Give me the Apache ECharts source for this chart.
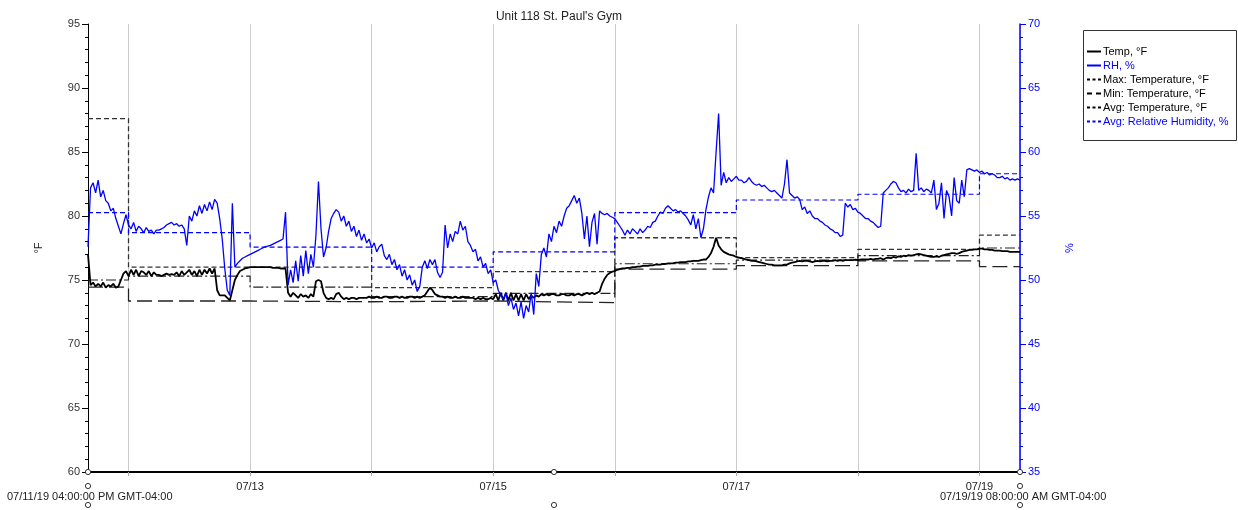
<!DOCTYPE html>
<html><head><meta charset="utf-8">
<script src="https://cdn.jsdelivr.net/npm/echarts@6/dist/echarts.min.js"></script>
<style>html,body{margin:0;padding:0;background:#fff}#c{width:1238px;height:510px}</style>
</head><body><div id="c"></div>
<script>
const chartTitle = "Unit 118 St. Paul's Gym";
const seriesNames = ['Temp, °F', 'RH, %', 'Max: Temperature, °F', 'Min: Temperature, °F', 'Avg: Temperature, °F', 'Avg: Relative Humidity, %'];
const startTime = '2019-07-11T16:00:00Z';
const endTime = '2019-07-19T08:00:00Z';
const sampleMinutes = 30;
const startLabel = '07/11/19 04:00:00 PM GMT-04:00';
const endLabel = '07/19/19 08:00:00 AM GMT-04:00';
const xTickLabels = ['07/13', '07/15', '07/17', '07/19'];

// Temperature, °F, every 30 minutes from startTime
const tempValues = [
77.0,74.6, 74.8,74.5, 74.7,74.5, 74.8,74.4, 74.6,74.5, 74.7,74.4, 74.5,75.0, 75.5,75.7,
75.3,75.8, 75.4,75.8, 75.3,75.7, 75.6,75.4, 75.7,75.3, 75.6,75.4, 75.4,75.3, 75.4,75.5,
75.4,75.45, 75.4,75.6, 75.3,75.7, 75.4,75.6, 75.8,75.4, 75.7,75.3, 75.8,75.4, 75.8,75.5,
75.9,75.5, 75.9,74.2, 73.8,73.8, 73.8,73.6, 73.4,74.2, 75.0,75.4, 75.7,75.8, 75.9,75.95,
76.0,76.0, 76.0,76.0, 76.0,76.0, 76.0,76.0, 76.0,75.95, 75.95,75.95, 75.9,75.9, 75.9,74.0,
73.7,74.0, 73.8,73.6, 73.9,73.7, 73.8,73.6, 73.9,73.7, 74.9,75.0, 74.9,74.0, 73.6,73.5,
73.6,73.5, 73.9,74.0, 73.7,73.5, 73.6,73.5, 73.6,73.6, 73.5,73.6, 73.6,73.6, 73.6,73.7,
73.6,73.6, 73.7,73.6, 73.6,73.7, 73.7,73.6, 73.6,73.7, 73.7,73.6, 73.7,73.6, 73.6,73.7,
73.7,73.6, 73.7,73.6, 73.7,73.8, 74.1,74.4, 74.2,73.9, 73.8,73.7, 73.7,73.6, 73.7,73.6,
73.6,73.7, 73.6,73.6, 73.7,73.6, 73.6,73.6, 73.6,73.5, 73.6,73.5, 73.6,73.5, 73.5,73.6,
73.5,73.9, 73.4,74.0, 73.4,74.0, 73.4,74.0, 73.4,73.9, 73.4,73.9, 73.4,73.9, 73.5,73.8,
73.6,73.8, 73.7,73.9, 73.8,73.9, 73.8,73.9, 73.9,73.8, 73.8,73.9, 73.9,73.8, 73.8,73.9,
73.8,73.9, 73.9,73.8, 73.9,74.0, 73.9,74.0, 73.9,74.0, 74.1,74.7, 75.1,75.4, 75.55,75.65,
75.7,75.8, 75.85,75.9, 75.9,75.95, 75.95,76.0, 76.0,76.05, 76.05,76.1, 76.1,76.1, 76.15,76.15,
76.2,76.2, 76.2,76.25, 76.25,76.3, 76.3,76.3, 76.35,76.35, 76.4,76.4, 76.4,76.45, 76.45,76.5,
76.5,76.5, 76.55,76.6, 76.6,76.8, 77.1,77.6, 78.3,77.7, 77.4,77.2, 77.1,77.0, 76.95,76.9,
76.8,76.75, 76.7,76.65, 76.6,76.55, 76.5,76.5, 76.45,76.4, 76.35,76.3, 76.25,76.2, 76.2,76.15,
76.15,76.15, 76.15,76.2, 76.2,76.3, 76.35,76.4, 76.45,76.5, 76.45,76.5, 76.5,76.45, 76.4,76.45,
76.5,76.45, 76.5,76.5, 76.45,76.5, 76.5,76.55, 76.5,76.55, 76.5,76.55, 76.55,76.55, 76.55,76.6,
76.55,76.6, 76.6,76.6, 76.6,76.65, 76.6,76.65, 76.65,76.7, 76.6,76.7, 76.75,76.7, 76.8,76.75,
76.85,76.8, 76.9,76.85, 76.95,76.9, 76.95,77.0, 77.05,77.0, 76.95,76.9, 76.85,76.8, 76.8,76.85,
76.8,76.9, 76.95,77.0, 77.05,77.1, 77.1,77.05, 77.1,77.2, 77.25,77.3, 77.35,77.35, 77.4,77.4,
77.45,77.45, 77.4,77.4, 77.35,77.35, 77.3,77.3, 77.3,77.25, 77.25,77.25, 77.2,77.2, 77.2,77.2,
77.2
];

// Relative humidity, %, every 30 minutes from startTime
const rhValues = [
52.6,57.2, 57.6,56.8, 57.8,56.5, 57.0,56.2, 56.0,55.4, 55.6,54.8, 54.2,53.6, 54.4,55.1,
54.3,54.0, 54.5,53.8, 54.2,54.0, 53.7,54.1, 53.8,53.9, 53.6,53.9, 53.9,54.0, 54.1,54.3,
54.4,54.5, 54.3,54.4, 54.2,54.3, 54.0,52.7, 55.0,54.6, 55.4,55.0, 55.8,55.2, 55.9,55.4,
56.1,55.5, 56.3,56.0, 54.8,53.2, 50.9,49.2, 48.8,56.0, 51.0,51.3, 51.5,51.7, 51.8,51.9,
52.0,52.1, 52.2,52.3, 52.4,52.5, 52.6,52.65, 52.7,52.8, 52.9,53.0, 53.1,53.2, 55.3,49.6,
50.8,49.8, 51.5,49.9, 51.9,50.3, 52.3,50.5, 52.0,51.0, 53.5,57.7, 54.0,51.8, 52.5,53.8,
54.8,55.2, 55.5,55.3, 54.6,55.0, 54.2,54.6, 53.8,54.2, 53.4,53.9, 53.1,53.6, 52.9,53.2,
52.5,52.9, 52.2,52.6, 52.8,51.9, 51.6,52.0, 51.2,51.6, 50.8,51.2, 50.3,50.8, 50.0,50.4,
49.6,50.0, 49.1,49.5, 51.0,51.5, 50.9,51.6, 51.2,51.6, 50.6,50.2, 50.6,54.3, 52.5,53.6,
53.0,53.8, 53.6,54.6, 53.9,54.2, 53.0,52.7, 52.2,52.4, 51.5,51.8, 51.0,51.3, 50.5,50.8,
49.8,50.0, 49.2,48.8, 48.5,49.0, 48.0,48.6, 47.7,48.2, 47.2,48.3, 47.0,48.0, 47.5,49.0,
47.3,50.5, 49.5,52.0, 52.5,51.8, 53.6,53.0, 54.2,53.7, 54.6,54.2, 55.0,55.6, 55.8,56.2,
56.6,56.0, 56.4,55.2, 53.2,55.0, 52.6,54.5, 55.2,52.8, 55.4,55.2, 55.1,55.2, 55.0,54.9,
54.8,54.5, 54.2,53.9, 53.5,53.9, 53.6,54.0, 53.8,53.6, 54.0,53.7, 53.9,54.2, 54.1,54.5,
54.6,55.0, 55.3,55.2, 55.6,55.8, 55.6,55.4, 55.5,55.3, 55.4,55.2, 55.0,54.7, 54.3,55.1,
54.0,54.8, 53.3,54.0, 55.5,56.5, 57.2,56.8, 60.0,63.0, 57.4,58.4, 57.6,58.0, 57.7,57.9,
58.1,57.8, 57.8,57.6, 57.7,58.0, 57.7,57.5, 57.4,57.5, 57.3,57.4, 57.2,57.0, 56.9,57.0,
56.8,56.6, 56.4,57.5, 59.4,56.8, 56.6,56.4, 56.5,56.3, 55.5,55.7, 55.2,55.4, 55.0,54.8,
54.8,54.6, 54.5,54.3, 54.2,54.0, 53.9,53.7, 53.7,53.4, 53.5,56.0, 55.7,55.9, 55.5,55.6,
55.3,55.2, 55.0,54.8, 54.8,54.6, 54.5,54.3, 54.1,54.2, 56.8,57.0, 57.2,57.5, 57.7,57.6,
57.2,56.9, 57.0,56.8, 57.1,56.9, 57.0,59.9, 57.0,57.2, 56.9,57.1, 57.0,56.8, 57.8,55.5,
56.0,57.6, 54.8,57.0, 56.5,55.0, 58.0,56.2, 56.0,57.8, 56.5,58.6, 58.7,58.6, 58.5,58.6,
58.4,58.5, 58.3,58.4, 58.2,58.3, 58.2,58.0, 58.0,58.1, 57.9,58.0, 57.8,57.9, 57.8,57.9,
57.8
];

// Daily summary steps (each starts at the given time)
const dayStarts = ['2019-07-11T16:00:00Z', '2019-07-12T00:00:00Z', '2019-07-13T00:00:00Z', '2019-07-14T00:00:00Z', '2019-07-15T00:00:00Z', '2019-07-16T00:00:00Z', '2019-07-17T00:00:00Z', '2019-07-18T00:00:00Z', '2019-07-19T00:00:00Z'];
const dailyMax = [87.6, 76.0, 76.0, 74.4, 75.65, 78.3, 76.75, 77.4, 78.5];
const dailyMin = [74.45, 73.36, 73.3, 73.36, 73.23, 75.85, 76.12, 76.5, 76.05];
const dailyAvg = [75.0, 75.3, 74.45, 73.7, 73.95, 76.27, 76.56, 76.9, 77.5];
const dailyAvgRh = [55.26, 53.7, 52.57, 51.0, 52.2, 55.26, 56.25, 56.7, 58.3];

const FONT = '"Liberation Sans", Arial, sans-serif';
const t0 = Date.parse(startTime);
const tEnd = Date.parse(endTime);
const toSeries = vals => vals.map((v, i) => [t0 + i * sampleMinutes * 60000, v]);
const toSteps = vals => dayStarts.map((t, i) => [Date.parse(t), vals[i]]).concat([[tEnd, vals[vals.length - 1]]]);

const chart = echarts.init(document.getElementById('c'), null, {renderer: 'canvas'});

const G = {left: 88, top: 24, right: 1020, bottom: 472};
const circ = (x, y) => ({type: 'circle', shape: {cx: x, cy: y, r: 2.6}, style: {fill: '#fff', stroke: '#333', lineWidth: 1}, z: 100});
const midX = (G.left + G.right) / 2;

// legend icons (solid / dotted / dashed strokes)
const ICON_SOLID = 'path://M0,0H14V2H0Z';
const ICON_DOTS = 'path://M0,0H3V2H0Z M5.5,0H8.5V2H5.5Z M11,0H14V2H11Z';
const ICON_DASH = 'path://M0,0H5V2H0Z M9,0H14V2H9Z';
const legendIcons = [ICON_SOLID, ICON_SOLID, ICON_DOTS, ICON_DASH, ICON_DOTS, ICON_DOTS];

chart.setOption({
  useUTC: true,
  animation: false,
  backgroundColor: '#fff',
  title: {text: chartTitle, left: midX, top: 6, textAlign: 'center',
    textStyle: {fontFamily: FONT, fontSize: 12, fontWeight: 'normal', color: '#222'}},
  grid: {left: G.left, top: G.top, right: 1238 - G.right, bottom: 510 - G.bottom, containLabel: false},
  legend: {
    orient: 'vertical', left: 1087, top: 46, itemWidth: 14, itemHeight: 2, itemGap: 3,
    selectedMode: false, padding: 0, symbolKeepAspect: false,
    textStyle: {fontFamily: FONT, fontSize: 11, lineHeight: 11, padding: [0, 0, 0, -3]},
    data: seriesNames.map((n, i) => ({name: n, icon: legendIcons[i],
      textStyle: {color: (i === 1 || i === 5) ? '#0000ff' : '#000'}}))
  },
  xAxis: {
    type: 'time', min: t0, max: tEnd,
    minInterval: 86400000, maxInterval: 86400000,
    axisLine: {lineStyle: {color: '#000', width: 2}},
    axisTick: {show: true, length: 4, lineStyle: {color: '#aaa'}},
    splitLine: {show: true, lineStyle: {color: '#cccccc', width: 1}},
    axisLabel: {
      fontFamily: FONT, fontSize: 11, color: '#222', margin: 9,
      showMinLabel: false, showMaxLabel: false, hideOverlap: false,
      formatter: v => {
        const d = new Date(v);
        const s = String(d.getUTCMonth() + 1).padStart(2, '0') + '/' + String(d.getUTCDate()).padStart(2, '0');
        return (d.getUTCHours() === 0 && xTickLabels.includes(s)) ? s : '';
      }
    }
  },
  yAxis: [
    {type: 'value', min: 60, max: 95, interval: 5, position: 'left',
      name: '°F', nameLocation: 'middle', nameGap: 44, nameRotate: 90,
      nameTextStyle: {fontFamily: FONT, fontSize: 11, color: '#222'},
      axisLine: {show: true, lineStyle: {color: '#000', width: 1}},
      axisTick: {show: true, length: 6, lineStyle: {color: '#000'}},
      minorTick: {show: true, splitNumber: 5, length: 3, lineStyle: {color: '#000'}},
      splitLine: {show: false},
      axisLabel: {fontFamily: FONT, fontSize: 11, color: '#333', margin: 8}
    },
    {type: 'value', min: 35, max: 70, interval: 5, position: 'right',
      name: '%', nameLocation: 'middle', nameGap: 44, nameRotate: 90,
      nameTextStyle: {fontFamily: FONT, fontSize: 11, color: '#0000ff'},
      axisLine: {show: true, lineStyle: {color: '#0000ff', width: 1.5}},
      axisTick: {show: true, length: 6, lineStyle: {color: '#0000ff'}},
      minorTick: {show: true, splitNumber: 5, length: 3, lineStyle: {color: '#0000ff'}},
      splitLine: {show: false},
      axisLabel: {fontFamily: FONT, fontSize: 11, color: '#0000ff', margin: 8}
    }
  ],
  series: [
    {name: seriesNames[0], type: 'line', yAxisIndex: 0, symbol: 'none', data: toSeries(tempValues),
      lineStyle: {color: '#000', width: 1.8}, itemStyle: {color: '#000'}, z: 3},
    {name: seriesNames[1], type: 'line', yAxisIndex: 1, symbol: 'none', data: toSeries(rhValues),
      lineStyle: {color: '#0000ff', width: 1.3}, itemStyle: {color: '#0000ff'}, z: 4},
    {name: seriesNames[2], type: 'line', yAxisIndex: 0, symbol: 'none', step: 'end', data: toSteps(dailyMax),
      lineStyle: {color: '#333', width: 1.3, type: [5, 3]}, itemStyle: {color: '#000'}, z: 2},
    {name: seriesNames[3], type: 'line', yAxisIndex: 0, symbol: 'none', step: 'end', data: toSteps(dailyMin),
      lineStyle: {color: '#222', width: 1.3, type: [15, 6]}, itemStyle: {color: '#000'}, z: 2},
    {name: seriesNames[4], type: 'line', yAxisIndex: 0, symbol: 'none', step: 'end', data: toSteps(dailyAvg),
      lineStyle: {color: '#222', width: 1.2, type: [10, 3, 2, 3]}, itemStyle: {color: '#000'}, z: 2},
    {name: seriesNames[5], type: 'line', yAxisIndex: 1, symbol: 'none', step: 'end', data: toSteps(dailyAvgRh),
      lineStyle: {color: '#0000ff', width: 1.2, type: [5, 3]}, itemStyle: {color: '#0000ff'}, z: 2}
  ],
  graphic: [
    {type: 'rect', shape: {x: 1083.5, y: 30.5, width: 153, height: 110}, style: {fill: 'none', stroke: '#333', lineWidth: 1}, z: 100},
    circ(G.left, G.bottom), circ(midX, G.bottom), circ(G.right, G.bottom),
    circ(G.left, 486), circ(G.right, 486),
    circ(G.left, 505), circ(midX, 505), circ(G.right, 505),
    {type: 'text', left: 7, top: 491, z: 99, style: {text: startLabel, font: '11px ' + FONT, fill: '#222'}},
    {type: 'text', left: 940, top: 491, z: 99, style: {text: endLabel, font: '11px ' + FONT, fill: '#222'}}
  ]
});
</script>
</body></html>
